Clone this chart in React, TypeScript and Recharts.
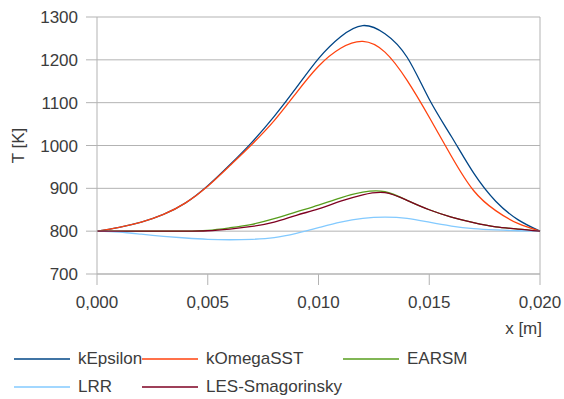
import React from "react";
import { LineChart, Line, XAxis, YAxis, CartesianGrid, ReferenceLine, Label } from "recharts";

const xValues = [0, 0.001, 0.002, 0.003, 0.004, 0.005, 0.006, 0.007, 0.008, 0.009, 0.01, 0.011, 0.012, 0.013, 0.014, 0.015, 0.016, 0.017, 0.018, 0.019, 0.02];
const kEpsilon = [800, 809, 821, 839, 866, 906, 955, 1008, 1068, 1135, 1203, 1254, 1280, 1261, 1206, 1108, 1021, 936, 870, 827, 800];
const kOmegaSST = [800, 809, 821, 839, 866, 905, 953, 1003, 1058, 1123, 1185, 1227, 1243, 1218, 1152, 1066, 975, 895, 848, 818, 800];
const EARSM = [800, 800, 800, 800, 800, 802, 808, 816, 829, 845, 861, 878, 891, 892, 872, 850, 833, 820, 810, 805, 800];
const LRR = [800, 798, 793, 788, 784, 781, 780, 781, 785, 795, 808, 821, 830, 833, 830, 821, 812, 806, 803, 801, 800];
const LES = [800, 800, 800, 800, 800, 801, 805, 811, 821, 837, 852, 870, 885, 890, 872, 850, 833, 820, 810, 805, 800];

const xTicks = [0, 0.005, 0.01, 0.015, 0.02];
const yTicks = [700, 800, 900, 1000, 1100, 1200, 1300];

const series = [
  { key: "kEpsilon", name: "kEpsilon", color: "#004586", values: kEpsilon },
  { key: "kOmegaSST", name: "kOmegaSST", color: "#ff420e", values: kOmegaSST },
  { key: "EARSM", name: "EARSM", color: "#579d1c", values: EARSM },
  { key: "LRR", name: "LRR", color: "#83caff", values: LRR },
  { key: "LES", name: "LES-Smagorinsky", color: "#7e0021", values: LES },
];

const data = xValues.map((x, i) => {
  const row: Record<string, number> = { x };
  series.forEach((s) => (row[s.key] = s.values[i]));
  return row;
});

const FONT = "'Liberation Sans', Arial, sans-serif";
const TEXT = "#3c3c3c";
const GRID = "#b3b3b3";

const legendPos = [
  { left: 14, top: 359 },
  { left: 142, top: 359 },
  { left: 343, top: 359 },
  { left: 14, top: 387 },
  { left: 142, top: 387 },
];

export default function App() {
  return (
    <div style={{ position: "absolute", left: 0, top: 0, width: 564, height: 399, background: "#fff" }}>
      <LineChart width={564} height={340} data={data} margin={{ top: 17, right: 24, left: 0, bottom: 6 }}>
        <CartesianGrid vertical={false} stroke={GRID} strokeWidth={1} />
        <XAxis
          dataKey="x"
          type="number"
          domain={[0, 0.02]}
          ticks={xTicks}
          tickFormatter={(v: number) => v.toFixed(3).replace(".", ",")}
          stroke={GRID}
          tickSize={11}
          tickMargin={11}
          height={60}
          tick={{ fill: TEXT, fontSize: 17, fontFamily: FONT }}
          interval={0}
        >
          <Label value="x [m]" position="insideBottomRight" offset={0} dx={2} fill={TEXT} fontSize={17} fontFamily={FONT} />
        </XAxis>
        <YAxis
          type="number"
          domain={[700, 1300]}
          ticks={yTicks}
          stroke={GRID}
          width={97}
          tickSize={11}
          tickMargin={8}
          interval={0}
          tick={{ fill: TEXT, fontSize: 17, fontFamily: FONT }}
        >
          <Label value="T [K]" angle={-90} position="insideLeft" offset={18} fill={TEXT} fontSize={17} fontFamily={FONT} style={{ textAnchor: "middle" }} />
        </YAxis>
        <ReferenceLine x={0.02} stroke={GRID} />
        {series.map((s) => (
          <Line
            key={s.key}
            dataKey={s.key}
            name={s.name}
            stroke={s.color}
            strokeWidth={1.3}
            dot={false}
            type="natural"
            isAnimationActive={false}
          />
        ))}
      </LineChart>
      {series.map((s, i) => (
        <div
          key={s.key}
          style={{
            position: "absolute",
            left: legendPos[i].left,
            top: legendPos[i].top - 10,
            display: "flex",
            alignItems: "center",
            height: 20,
            fontFamily: FONT,
            fontSize: 17,
            color: TEXT,
            whiteSpace: "nowrap",
          }}
        >
          <div style={{ width: 56, height: 2, background: s.color, opacity: 0.75, marginRight: 8 }} />
          <span>{s.name}</span>
        </div>
      ))}
    </div>
  );
}
